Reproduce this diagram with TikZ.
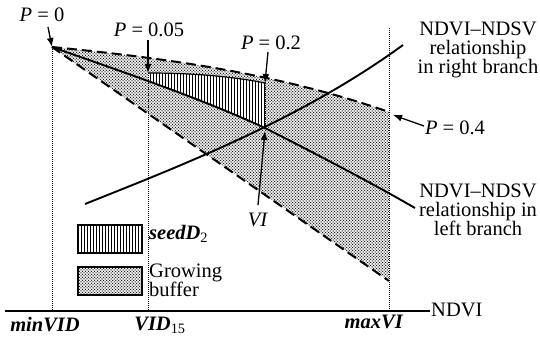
\documentclass[tikz,border=0pt]{standalone}
\usepackage{fontspec}
\setmainfont{Liberation Serif}
\usetikzlibrary{arrows.meta,patterns}
\pgfdeclarepatternformonly{bufdots}{\pgfqpoint{-1pt}{-1pt}}{\pgfqpoint{4pt}{4pt}}{\pgfqpoint{3pt}{3pt}}{%
  \pgfpathcircle{\pgfqpoint{0pt}{0pt}}{0.75pt}%
  \pgfpathcircle{\pgfqpoint{1.5pt}{1.5pt}}{0.75pt}%
  \pgfusepath{fill}}
\pgfdeclarepatternformonly{vhatch}{\pgfqpoint{-1pt}{-1pt}}{\pgfqpoint{1pt}{4pt}}{\pgfqpoint{3pt}{3pt}}{%
  \pgfsetlinewidth{0.9pt}%
  \pgfpathmoveto{\pgfqpoint{0pt}{-1pt}}\pgfpathlineto{\pgfqpoint{0pt}{4pt}}%
  \pgfusepath{stroke}}
\begin{document}
\begin{tikzpicture}[x=1pt,y=-1pt,
  lab/.style={inner sep=0pt,font=\fontsize{20.5}{19}\selectfont},
  thickline/.style={line width=1.9pt},
  dashline/.style={line width=2pt,dash pattern=on 10pt off 5pt},
  dotline/.style={line width=0.8pt,dash pattern=on 0.8pt off 1.2pt},
  arr/.style={line width=1.3pt,-{Latex[length=9pt,width=7pt]}},
  bufpat/.style={pattern=bufdots,pattern color=black!85},
  seedpat/.style={pattern=vhatch,pattern color=black},
  legbox/.style={draw,line width=1.5pt,minimum width=64pt,minimum height=28pt,inner sep=0pt}]
\useasboundingbox (0,0) rectangle (540,342);
\fill[white] (0,0) rectangle (540,342);
% key points
\coordinate (A) at (52,47);
\coordinate (Uend) at (389,112);
\coordinate (Lend) at (389,281);
\coordinate (X) at (265,128);
\coordinate (Xb) at (265,131);
\coordinate (Mend) at (415,208);
\coordinate (Rs) at (85,204);
\coordinate (Re) at (403,45);
\coordinate (S1) at (148,73);
\coordinate (S2) at (265,83);
\coordinate (T) at (389,28);
\coordinate (O) at (5,311);
\coordinate (E) at (430,311);
% growing buffer
\path[bufpat] (A) .. controls (164,58) and (277,73) .. (Uend) -- (Lend) -- cycle;
% seed region
\begin{scope}
  \clip (148,0) rectangle (265,342);
  \path[fill=white] (S1) .. controls (190,73) and (230,76) .. (S2) -- (X) .. controls (200,98) and (120,71) .. (A) -- cycle;
  \path[seedpat] (S1) .. controls (190,73) and (230,76) .. (S2) -- (X) .. controls (200,98) and (120,71) .. (A) -- cycle;
\end{scope}
% curves
\draw[dashline] (A) .. controls (164,58) and (277,73) .. (Uend);
\draw[dashline] (A) -- (Lend);
\draw[thickline] (A) .. controls (120,71) and (200,98) .. (X) .. controls (320,156) and (370,182) .. (Mend);
\draw[thickline] (Rs) .. controls (180,166) and (300,120) .. (Re);
\draw[line width=1.2pt] (S1) .. controls (190,73) and (230,76) .. (S2);
% dotted verticals
\draw[dotline] (A) -- (A |- O);
\draw[dotline] (S1) -- (S1 |- O);
\draw[dotline] (T) -- (T |- O);
\draw[dotline] (S2) -- (X);
% axis
\draw[line width=1.5pt] (O) -- (E);
\node[lab,anchor=west] (ndvi) at (431,310) {NDVI};
\node[lab] (minvid) at (45,325) {\textbf{\textit{minVID}}};
\node[lab] (vid15) at (160,325) {\textbf{\textit{VID}}\textsubscript{15}};
\node[lab] (maxvi) at (374,322) {\textbf{\textit{maxVI}}};
% P labels
\node[lab] (p0) at (42,15) {\textit{P} = 0};
\coordinate (p0s) at (48,27);
\draw[arr] (p0s) -- (A);
\node[lab] (p005) at (149,30) {\textit{P} = 0.05};
\coordinate (p005s) at (148,40);
\draw[arr] (p005s) -- (S1);
\node[lab] (p02) at (271,43) {\textit{P} = 0.2};
\coordinate (p02s) at (268,52);
\draw[arr] (p02s) -- (S2);
\node[lab] (p04) at (455,128) {\textit{P} = 0.4};
\coordinate (p04s) at (424,126);
\coordinate (p04e) at (393,115);
\draw[arr] (p04s) -- (p04e);
\node[lab] (vi) at (258,220) {\textit{VI}};
\coordinate (vis) at (258,205);
\draw[arr] (vis) -- (Xb);
% branch texts
\node[lab,align=center,anchor=north] (rtxt) at (478,22) {NDVI–NDSV\\relationship\\in right branch};
\node[lab,align=center,anchor=north] (ltxt) at (478,184) {NDVI–NDSV\\relationship in\\left branch};
% legend
\node[legbox,seedpat] (legseed) at (110,239) {};
\node[lab,anchor=west] (seedlab) at (149,234) {\textbf{\textit{seedD}}\textsubscript{2}};
\node[legbox,bufpat] (legbuf) at (110,281) {};
\node[lab,align=left,anchor=north west] (buflab) at (149,264) {Growing\\buffer};
\end{tikzpicture}
\end{document}
